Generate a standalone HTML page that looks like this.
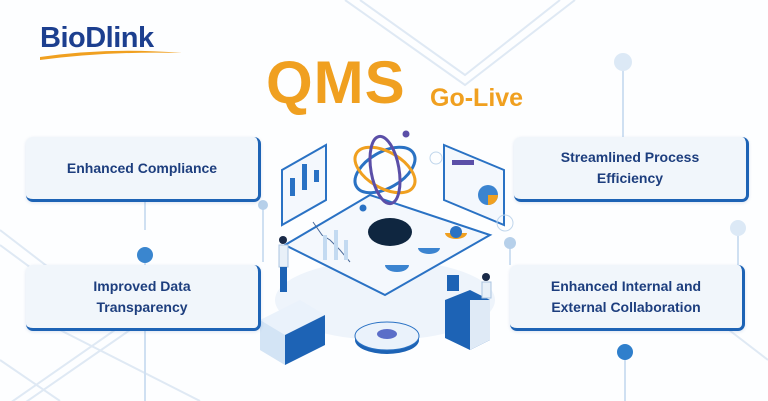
<!DOCTYPE html>
<html><head><meta charset="utf-8"><style>
html,body{margin:0;padding:0;background:#fff}
#c{position:relative;width:768px;height:401px;overflow:hidden;background:#fdfeff;font-family:"Liberation Sans",sans-serif}
.box{position:absolute;background:#f1f6fb;border-radius:7px;border-right:3px solid #1d63b5;border-bottom:3px solid #1d63b5;box-shadow:0 1px 3px rgba(40,90,160,.15);display:flex;align-items:center;justify-content:center;text-align:center;color:#1d3e7e;font-weight:bold;font-size:14px;line-height:21px}
</style></head><body><div id="c">
<svg width="768" height="401" style="position:absolute;left:0;top:0">
<g stroke="#dfe9f4" stroke-width="2" fill="none">
<polyline points="360,0 465,75 560,0"/><polyline points="345,0 465,85 575,0"/>
<polyline points="0,230 130,330 0,420"/><polyline points="0,245 115,330 0,410"/>
<line x1="60" y1="330" x2="200" y2="401"/><line x1="690" y1="300" x2="768" y2="360"/>
<line x1="0" y1="360" x2="60" y2="401"/>
</g>
<g stroke="#cfe0f2" stroke-width="2">
<line x1="623" y1="62" x2="623" y2="137"/><line x1="738" y1="230" x2="738" y2="270"/>
<line x1="145" y1="255" x2="145" y2="265"/><line x1="145" y1="200" x2="145" y2="230"/>
<line x1="145" y1="330" x2="145" y2="401"/><line x1="625" y1="352" x2="625" y2="401"/>
<line x1="263" y1="205" x2="263" y2="262"/><line x1="510" y1="245" x2="510" y2="265"/>
</g>
<circle cx="623" cy="62" r="9" fill="#dce9f6"/><circle cx="738" cy="228" r="8" fill="#dce9f6"/>
<circle cx="145" cy="255" r="8" fill="#3a86cf"/><circle cx="625" cy="352" r="8" fill="#2f7fcc"/>
<circle cx="263" cy="205" r="5" fill="#b6d0ea"/><circle cx="510" cy="243" r="6" fill="#b6d0ea"/>
<ellipse cx="385" cy="300" rx="110" ry="40" fill="#eef4fb"/>
<polygon points="285,245 370,195 490,235 385,295" fill="#f4f8fd" stroke="#2a72c4" stroke-width="2"/>
<ellipse cx="390" cy="232" rx="22" ry="14" fill="#0f2640"/>
<path d="M385,265 a12,7 0 0 0 24,0" fill="#3b84d0"/><path d="M418,248 a11,6 0 0 0 22,0" fill="#3b84d0"/>
<path d="M445,233 a11,6 0 0 0 22,0" fill="#f0a020"/><circle cx="456" cy="232" r="6" fill="#2a72c4"/>
<polyline points="313,222 322,235 330,240 340,250 350,262" stroke="#4a6a9a" fill="none"/>
<g fill="#c3daf1"><rect x="323" y="235" width="4" height="25"/><rect x="334" y="230" width="4" height="30"/><rect x="344" y="240" width="4" height="20"/></g>
<g fill="none" stroke-width="3"><ellipse cx="385" cy="170" rx="33" ry="18" transform="rotate(-30 385 170)" stroke="#2a72c4"/>
<ellipse cx="385" cy="170" rx="33" ry="18" transform="rotate(30 385 170)" stroke="#f0a020"/>
<ellipse cx="385" cy="170" rx="14" ry="34" transform="rotate(-10 385 170)" stroke="#5b4fa8"/></g>
<circle cx="406" cy="134" r="3.5" fill="#5b4fa8"/><circle cx="363" cy="208" r="3.5" fill="#2a72c4"/>
<polygon points="282,170 326,145 326,200 282,225" fill="#f4f8fd" stroke="#2a72c4" stroke-width="2"/>
<rect x="290" y="178" width="5" height="18" fill="#2a72c4"/><rect x="302" y="164" width="5" height="26" fill="#2a72c4"/><rect x="314" y="170" width="5" height="12" fill="#2a72c4"/>
<polygon points="444,145 504,170 504,225 444,200" fill="#f4f8fd" stroke="#2a72c4" stroke-width="2"/>
<rect x="452" y="160" width="22" height="5" fill="#5b4fa8"/>
<circle cx="488" cy="195" r="10" fill="#3b84d0"/><path d="M488,195 L498,195 A10,10 0 0 1 488,205Z" fill="#f0a020"/>
<circle cx="436" cy="158" r="6" fill="none" stroke="#c0d6ec"/><circle cx="505" cy="223" r="8" fill="none" stroke="#c0d6ec"/>
<polygon points="260,320 300,300 325,315 325,345 285,365 260,350" fill="#eaf2fb"/>
<polygon points="285,335 325,315 325,345 285,365" fill="#1d63b5"/>
<polygon points="260,320 285,335 285,365 260,350" fill="#d3e4f5"/>
<rect x="279" y="245" width="9" height="22" fill="#e8f0f8" stroke="#aac4e0"/><rect x="280" y="267" width="7" height="25" fill="#1d63b5"/><circle cx="283" cy="240" r="4" fill="#1a2a48"/>
<ellipse cx="387" cy="340" rx="32" ry="14" fill="#1d63b5"/><ellipse cx="387" cy="336" rx="32" ry="14" fill="#eaf2fb" stroke="#2a72c4"/>
<ellipse cx="387" cy="334" rx="10" ry="5" fill="#5b6ec8"/>
<polygon points="445,300 470,290 490,300 490,340 470,350 445,338" fill="#1d63b5"/>
<polygon points="470,300 490,300 490,340 470,350" fill="#dfeaf6"/>
<rect x="447" y="275" width="12" height="16" fill="#1d63b5"/>
<rect x="482" y="282" width="9" height="16" fill="#e8f0f8" stroke="#aac4e0"/><circle cx="486" cy="277" r="4" fill="#1a2a48"/>
<path d="M40,57 Q110,47 182,53 Q110,51 40,60Z" fill="#f0a020"/>
</svg>
<div style="position:absolute;left:40px;top:22px;font-size:29px;font-weight:bold;color:#1c3f8f;letter-spacing:-0.5px">BioDlink</div>
<div style="position:absolute;left:266px;top:52px;font-size:60px;font-weight:bold;color:#f0a020;line-height:62px;letter-spacing:1px">QMS</div>
<div style="position:absolute;left:430px;top:84px;font-size:25px;font-weight:bold;color:#f0a020;line-height:28px">Go-Live</div>
<div class="box" style="left:26px;top:137px;width:232px;height:62px">Enhanced Compliance</div>
<div class="box" style="left:26px;top:265px;width:232px;height:63px">Improved Data<br>Transparency</div>
<div class="box" style="left:514px;top:137px;width:232px;height:62px">Streamlined Process<br>Efficiency</div>
<div class="box" style="left:510px;top:265px;width:232px;height:63px">Enhanced Internal and<br>External Collaboration</div>
</div></body></html>
